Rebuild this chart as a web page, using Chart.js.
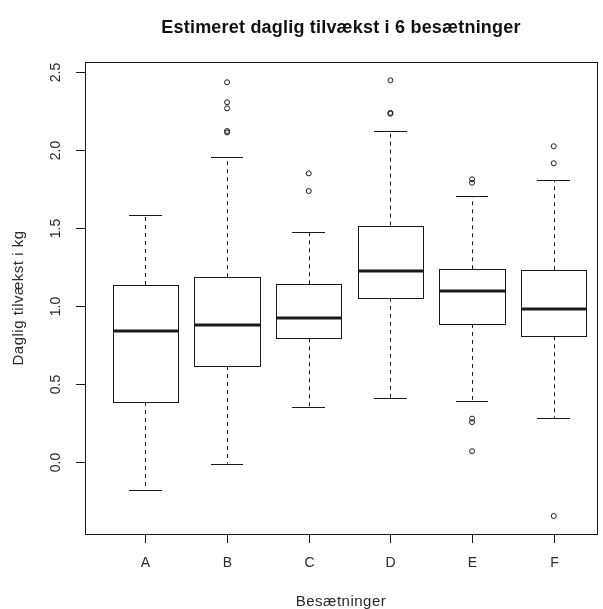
<!DOCTYPE html>
<html>
<head>
<meta charset="utf-8">
<script src="https://cdn.jsdelivr.net/npm/chart.js@4/dist/chart.umd.min.js"></script>
<style>
  html, body { margin: 0; padding: 0; background: #fff; }
  canvas { display: block; }
</style>
</head>
<body>
<canvas id="c" width="603" height="609"></canvas>
<script>
// Herd labels and five-number summaries of daily gain (kg)
const categories   = ['A', 'B', 'C', 'D', 'E', 'F'];
const lowerWhisker = [-0.18, -0.01, 0.35, 0.41, 0.39, 0.28];
const q1           = [0.385, 0.615, 0.793, 1.053, 0.885, 0.806];
const median       = [0.842, 0.880, 0.921, 1.224, 1.098, 0.983];
const q3           = [1.135, 1.184, 1.139, 1.515, 1.235, 1.229];
const upperWhisker = [1.585, 1.953, 1.476, 2.12, 1.705, 1.808];
const outliers     = [
  [],
  [2.434, 2.306, 2.267, 2.122, 2.112],
  [1.85, 1.737],
  [2.447, 2.238, 2.232],
  [1.812, 1.790, 0.278, 0.256, 0.069],
  [2.024, 1.915, -0.346]
];
const yTicks = [0, 0.5, 1, 1.5, 2, 2.5];

const titleText = 'Estimeret daglig tilvækst i 6 besætninger';
const xTitle = 'Besætninger';
const yTitle = 'Daglig tilvækst i kg';

const FONT = '"Liberation Sans", Arial, sans-serif';
const INK = '#1a1a1a';

const boxData = categories.map((c, i) => ({ x: i + 1, y: [q1[i], q3[i]] }));
const outlierData = [];
outliers.forEach((vals, i) => vals.forEach(v => outlierData.push({ x: i + 1, y: v })));

const crisp = v => Math.round(v) + 0.5;

// Whiskers, caps, medians, frame, axes and titles in base R style
const boxplotDecor = {
  id: 'boxplotDecor',
  beforeDatasetsDraw(chart) {
    const { ctx, scales: { x, y } } = chart;
    ctx.save();
    ctx.strokeStyle = INK;
    ctx.lineWidth = 1;
    ctx.setLineDash([4, 4]);
    categories.forEach((c, i) => {
      const px = crisp(x.getPixelForValue(i + 1));
      ctx.beginPath();
      ctx.moveTo(px, y.getPixelForValue(q3[i]));
      ctx.lineTo(px, y.getPixelForValue(upperWhisker[i]));
      ctx.stroke();
      ctx.beginPath();
      ctx.moveTo(px, y.getPixelForValue(q1[i]));
      ctx.lineTo(px, y.getPixelForValue(lowerWhisker[i]));
      ctx.stroke();
    });
    ctx.restore();
  },
  afterDatasetsDraw(chart) {
    const { ctx, chartArea: a, scales: { x, y } } = chart;
    const unit = x.getPixelForValue(2) - x.getPixelForValue(1);
    const bars = chart.getDatasetMeta(0).data;
    ctx.save();
    ctx.strokeStyle = INK;
    categories.forEach((c, i) => {
      const cx = x.getPixelForValue(i + 1);
      const bar = bars[i];
      const half = bar.width / 2;
      // box outline on whole pixels
      ctx.lineWidth = 1;
      const l = crisp(bar.x - half), r = crisp(bar.x + half);
      const t = crisp(Math.min(bar.y, bar.base)), b = crisp(Math.max(bar.y, bar.base));
      ctx.strokeRect(l, t, r - l, b - t);
      // whisker caps
      ctx.beginPath();
      [lowerWhisker[i], upperWhisker[i]].forEach(v => {
        const py = crisp(y.getPixelForValue(v));
        ctx.moveTo(Math.round(cx - unit * 0.2), py);
        ctx.lineTo(Math.round(cx + unit * 0.2), py);
      });
      ctx.stroke();
      // median
      ctx.lineWidth = 3;
      ctx.beginPath();
      const my = Math.round(y.getPixelForValue(median[i]));
      ctx.moveTo(l, my);
      ctx.lineTo(r, my);
      ctx.stroke();
    });

    // plot frame
    ctx.lineWidth = 1;
    ctx.strokeRect(crisp(a.left), crisp(a.top),
                   Math.round(a.right - a.left), Math.round(a.bottom - a.top));

    // y axis ticks and labels
    ctx.fillStyle = '#2a2a2a';
    ctx.font = '14px ' + FONT;
    yTicks.forEach(v => {
      const py = crisp(y.getPixelForValue(v));
      ctx.beginPath();
      ctx.moveTo(a.left - 9, py);
      ctx.lineTo(a.left, py);
      ctx.stroke();
      ctx.save();
      ctx.translate(a.left - 29, py);
      ctx.rotate(-Math.PI / 2);
      ctx.textAlign = 'center';
      ctx.textBaseline = 'middle';
      ctx.fillText(v.toFixed(1), 0, 0);
      ctx.restore();
    });

    // x axis ticks and labels
    categories.forEach((c, i) => {
      const px = crisp(x.getPixelForValue(i + 1));
      ctx.beginPath();
      ctx.moveTo(px, a.bottom);
      ctx.lineTo(px, a.bottom + 9);
      ctx.stroke();
      ctx.textAlign = 'center';
      ctx.textBaseline = 'middle';
      ctx.fillText(c, px, a.bottom + 29);
    });

    // axis titles
    const midX = (a.left + a.right) / 2;
    const midY = (a.top + a.bottom) / 2;
    ctx.font = '15px ' + FONT;
    ctx.letterSpacing = '0.5px';
    ctx.fillText(xTitle, midX, a.bottom + 68);
    ctx.save();
    ctx.translate(19, midY);
    ctx.rotate(-Math.PI / 2);
    ctx.fillText(yTitle, 0, 0);
    ctx.restore();

    // main title
    ctx.fillStyle = '#111';
    ctx.font = 'bold 18px ' + FONT;
    ctx.letterSpacing = '0.2px';
    ctx.textBaseline = 'alphabetic';
    ctx.fillText(titleText, midX, 33);
    ctx.restore();
  }
};

new Chart(document.getElementById('c'), {
  type: 'bar',
  data: {
    datasets: [
      {
        type: 'bar',
        data: boxData,
        backgroundColor: '#ffffff',
        borderWidth: 0,
        borderSkipped: false,
        barPercentage: 1.0,
        categoryPercentage: 0.8,
        order: 2
      },
      {
        type: 'scatter',
        data: outlierData,
        pointStyle: 'circle',
        pointRadius: 2.5,
        pointBorderWidth: 1,
        pointBorderColor: INK,
        pointBackgroundColor: 'rgba(0,0,0,0)',
        order: 1
      }
    ]
  },
  options: {
    responsive: false,
    animation: false,
    events: [],
    layout: { padding: { left: 85, right: 6, top: 62, bottom: 75 } },
    plugins: { legend: { display: false }, tooltip: { enabled: false }, title: { display: false } },
    scales: {
      x: {
        type: 'linear',
        display: false,
        offset: false,
        min: 0.26,
        max: 6.53,
        grid: { offset: false },
        afterBuildTicks(scale) { scale.ticks = categories.map((c, i) => ({ value: i + 1 })); }
      },
      y: {
        type: 'linear',
        display: false,
        beginAtZero: false,
        min: -0.4615,
        max: 2.564,
        afterBuildTicks(scale) { scale.ticks = yTicks.map(v => ({ value: v })); }
      }
    }
  },
  plugins: [boxplotDecor]
});
</script>
</body>
</html>
